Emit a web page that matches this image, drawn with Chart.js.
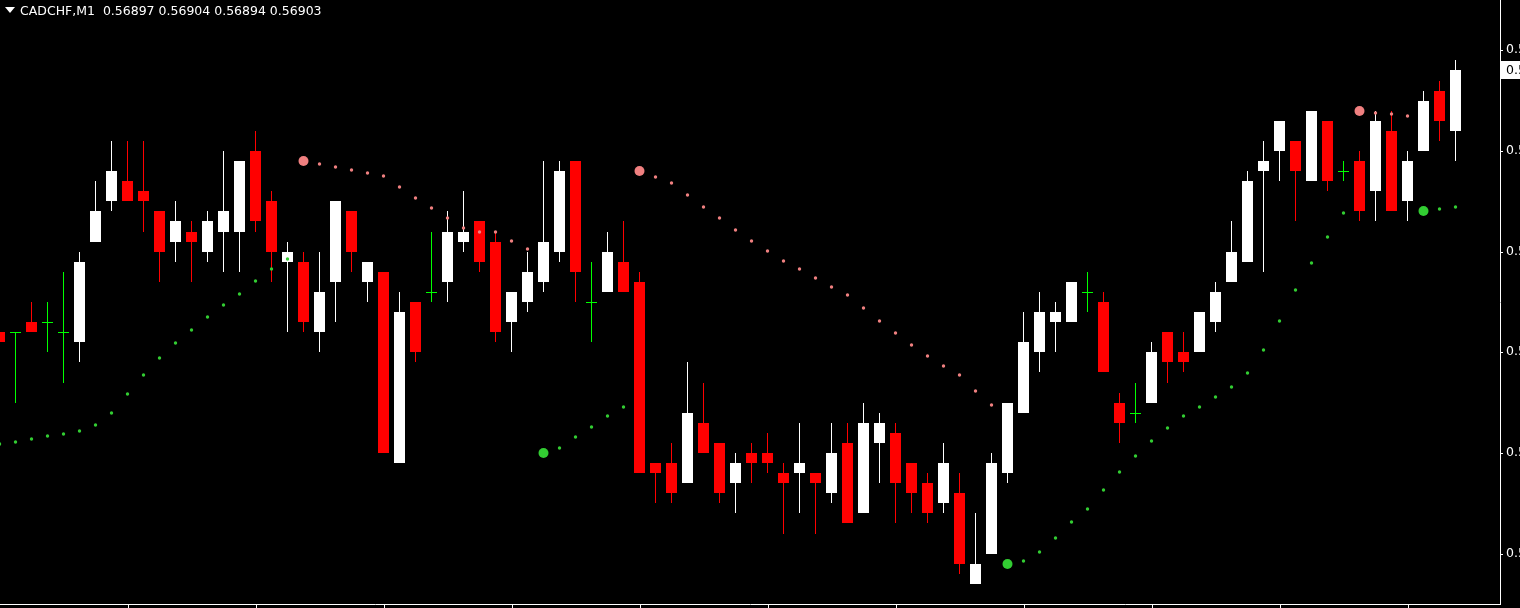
<!DOCTYPE html>
<html>
<head>
<meta charset="utf-8">
<script src="https://cdn.jsdelivr.net/npm/chart.js@4.4.1/dist/chart.umd.min.js"></script>
<style>
  html, body { margin: 0; padding: 0; background: #000; }
  #wrap { position: relative; width: 1520px; height: 608px; overflow: hidden; background: #000; }
  #head { position: absolute; left: 20px; top: 3px; color: #fff; font: 12.5px "DejaVu Sans", sans-serif; white-space: pre; }
  #tri { position: absolute; left: 5px; top: 7px; width: 0; height: 0;
         border-left: 5px solid transparent; border-right: 5px solid transparent; border-top: 6px solid #fff; }
</style>
</head>
<body>
<div id="wrap">
  <canvas id="priceChart"></canvas>
  <div id="tri"></div>
  <div id="head"></div>
</div>
<script>
// CADCHF M1 candles, one per minute, oldest first
const symbol = 'CADCHF,M1';

const opens = [
  0.56877, 0.56877, 0.56878, 0.56878, 0.56877, 0.56876, 0.56886, 0.56890, 0.56892, 0.56891,
  0.56889, 0.56886, 0.56887, 0.56885, 0.56887, 0.56887, 0.56895, 0.56890, 0.56884, 0.56884,
  0.56877, 0.56882, 0.56889, 0.56882, 0.56883, 0.56864, 0.56880, 0.56881, 0.56882, 0.56886,
  0.56888, 0.56886, 0.56878, 0.56880, 0.56882, 0.56885, 0.56894, 0.56880, 0.56881, 0.56884,
  0.56882, 0.56864, 0.56864, 0.56862, 0.56868, 0.56866, 0.56862, 0.56865, 0.56865, 0.56863,
  0.56863, 0.56863, 0.56861, 0.56866, 0.56859, 0.56866, 0.56867, 0.56864, 0.56862, 0.56860,
  0.56861, 0.56852, 0.56855, 0.56863, 0.56869, 0.56875, 0.56878, 0.56878, 0.56881, 0.56880,
  0.56870, 0.56869, 0.56870, 0.56877, 0.56875, 0.56875, 0.56878, 0.56882, 0.56884, 0.56893,
  0.56895, 0.56896, 0.56892, 0.56898, 0.56893, 0.56894, 0.56891, 0.56897, 0.56890, 0.56895,
  0.56901, 0.56897
];
const highs = [
  0.56878, 0.56877, 0.56880, 0.56880, 0.56883, 0.56885, 0.56892, 0.56896, 0.56896, 0.56896,
  0.56889, 0.56890, 0.56888, 0.56889, 0.56895, 0.56894, 0.56897, 0.56891, 0.56886, 0.56885,
  0.56885, 0.56890, 0.56889, 0.56884, 0.56883, 0.56881, 0.56880, 0.56887, 0.56889, 0.56891,
  0.56888, 0.56887, 0.56881, 0.56885, 0.56894, 0.56894, 0.56894, 0.56884, 0.56887, 0.56888,
  0.56883, 0.56864, 0.56866, 0.56874, 0.56872, 0.56866, 0.56865, 0.56866, 0.56867, 0.56864,
  0.56868, 0.56863, 0.56868, 0.56868, 0.56870, 0.56869, 0.56868, 0.56864, 0.56863, 0.56866,
  0.56863, 0.56859, 0.56865, 0.56870, 0.56879, 0.56881, 0.56880, 0.56882, 0.56883, 0.56881,
  0.56871, 0.56872, 0.56876, 0.56877, 0.56877, 0.56879, 0.56882, 0.56888, 0.56893, 0.56896,
  0.56898, 0.56896, 0.56899, 0.56898, 0.56894, 0.56895, 0.56899, 0.56899, 0.56895, 0.56901,
  0.56902, 0.56904
];
const lows = [
  0.56875, 0.56870, 0.56877, 0.56875, 0.56872, 0.56874, 0.56886, 0.56889, 0.56890, 0.56887,
  0.56882, 0.56884, 0.56882, 0.56884, 0.56883, 0.56883, 0.56887, 0.56882, 0.56877, 0.56877,
  0.56875, 0.56878, 0.56883, 0.56880, 0.56865, 0.56864, 0.56874, 0.56880, 0.56880, 0.56885,
  0.56883, 0.56876, 0.56875, 0.56879, 0.56881, 0.56884, 0.56880, 0.56876, 0.56881, 0.56881,
  0.56863, 0.56860, 0.56860, 0.56862, 0.56865, 0.56860, 0.56859, 0.56862, 0.56863, 0.56857,
  0.56859, 0.56857, 0.56860, 0.56858, 0.56859, 0.56862, 0.56858, 0.56859, 0.56858, 0.56859,
  0.56853, 0.56852, 0.56855, 0.56862, 0.56869, 0.56873, 0.56875, 0.56878, 0.56879, 0.56873,
  0.56866, 0.56868, 0.56870, 0.56872, 0.56873, 0.56875, 0.56877, 0.56882, 0.56884, 0.56883,
  0.56892, 0.56888, 0.56892, 0.56891, 0.56892, 0.56888, 0.56888, 0.56889, 0.56888, 0.56895,
  0.56896, 0.56894
];
const closes = [
  0.56876, 0.56877, 0.56877, 0.56878, 0.56877, 0.56884, 0.56889, 0.56893, 0.56890, 0.56890,
  0.56885, 0.56888, 0.56886, 0.56888, 0.56889, 0.56894, 0.56888, 0.56885, 0.56885, 0.56878,
  0.56881, 0.56890, 0.56885, 0.56884, 0.56865, 0.56879, 0.56875, 0.56881, 0.56887, 0.56887,
  0.56884, 0.56877, 0.56881, 0.56883, 0.56886, 0.56893, 0.56883, 0.56880, 0.56885, 0.56881,
  0.56863, 0.56863, 0.56861, 0.56869, 0.56865, 0.56861, 0.56864, 0.56864, 0.56864, 0.56862,
  0.56864, 0.56862, 0.56865, 0.56858, 0.56868, 0.56868, 0.56862, 0.56861, 0.56859, 0.56864,
  0.56854, 0.56854, 0.56864, 0.56870, 0.56876, 0.56879, 0.56879, 0.56882, 0.56881, 0.56873,
  0.56868, 0.56869, 0.56875, 0.56874, 0.56874, 0.56879, 0.56881, 0.56885, 0.56892, 0.56894,
  0.56898, 0.56893, 0.56899, 0.56892, 0.56893, 0.56889, 0.56898, 0.56889, 0.56894, 0.56900,
  0.56898, 0.56903
];

// parabolic SAR value for each candle
const sar = [
  0.568659, 0.568661, 0.568664, 0.568667, 0.568669, 0.568672, 0.568678, 0.568690, 0.568709, 0.568727,
  0.568744, 0.568759, 0.568772, 0.568785, 0.568797, 0.568808, 0.568821, 0.568833, 0.568843, 0.568940,
  0.568937, 0.568934, 0.568931, 0.568928, 0.568925, 0.568914, 0.568903, 0.568893, 0.568883, 0.568874,
  0.568870, 0.568870, 0.568861, 0.568853, 0.568650, 0.568655, 0.568666, 0.568676, 0.568687, 0.568696,
  0.568930, 0.568924, 0.568918, 0.568906, 0.568894, 0.568883, 0.568872, 0.568861, 0.568851, 0.568841,
  0.568833, 0.568824, 0.568815, 0.568807, 0.568794, 0.568781, 0.568769, 0.568757, 0.568746, 0.568736,
  0.568727, 0.568712, 0.568698, 0.568540, 0.568543, 0.568552, 0.568566, 0.568581, 0.568594, 0.568613,
  0.568631, 0.568647, 0.568662, 0.568675, 0.568687, 0.568696, 0.568706, 0.568716, 0.568729, 0.568752,
  0.568781, 0.568812, 0.568839, 0.568865, 0.568888, 0.568990, 0.568988, 0.568987, 0.568985, 0.568890,
  0.568892, 0.568894
];
// candles where the SAR flips side (drawn as a big dot)
const reversals = [19, 34, 40, 63, 85, 89];

// price axis
const priceMin = 0.56850;
const priceMax = 0.56910;
const priceTicks = [0.56855, 0.56865, 0.56875, 0.56885, 0.56895, 0.56905];
const barsPerTimeTick = 8;

const bullColor = '#ffffff';
const bearColor = '#ff0000';
const dojiColor = '#00ff00';

// first candle sits half a pixel left of the canvas edge, chart shifted right by ~2.8 bars
const xMin = 0.03125;
const xMax = xMin + 93.75;

function candleColor(i) {
  if (closes[i] > opens[i]) return bullColor;
  if (closes[i] < opens[i]) return bearColor;
  return dojiColor;
}

const wicks = [], wickColors = [];
const bodies = [], bodyColors = [];
const dojis = [];
opens.forEach((o, i) => {
  wicks.push({ x: i, y: [lows[i], highs[i]] });
  wickColors.push(candleColor(i));
  if (o === closes[i]) {
    dojis.push({ x: i, y: o });
  } else {
    bodies.push({ x: i, y: [o, closes[i]] });
    bodyColors.push(candleColor(i));
  }
});

const timeTicks = [];
for (let i = barsPerTimeTick; i < xMax; i += barsPerTimeTick) timeTicks.push(i + xMin);

// header text built from the last candle
const last = opens.length - 1;
document.getElementById('head').textContent =
  symbol + '  ' + [opens[last], highs[last], lows[last], closes[last]].map(v => v.toFixed(5)).join(' ');

// shift the 1px doji strokes half a pixel so they sit on a pixel row
const crispDoji = {
  id: 'crispDoji',
  beforeDatasetDraw(chart, args) {
    if (args.meta.label === 'doji') { chart.ctx.save(); chart.ctx.translate(0, 0.5); }
  },
  afterDatasetDraw(chart, args) {
    if (args.meta.label === 'doji') chart.ctx.restore();
  }
};

// white box with the current bid on the price scale
const bidLabel = {
  id: 'bidLabel',
  afterDraw(chart) {
    const { ctx, chartArea } = chart;
    const y = chart.scales.y.getPixelForValue(closes[last]);
    ctx.save();
    ctx.fillStyle = '#ffffff';
    ctx.fillRect(chartArea.right + 1, Math.round(y) - 9, 19, 18);
    ctx.fillStyle = '#000000';
    ctx.font = '12.5px "DejaVu Sans"';
    ctx.textBaseline = 'middle';
    ctx.fillText(closes[last].toFixed(5), chartArea.right + 6, y + 0.5);
    ctx.restore();
  }
};

new Chart(document.getElementById('priceChart'), {
  type: 'bar',
  data: {
    datasets: [
      {
        type: 'scatter',
        label: 'SAR',
        data: sar.map((v, i) => ({ x: i, y: v })),
        pointRadius: ctx => reversals.includes(ctx.dataIndex) ? 5 : 1.7,
        pointBackgroundColor: ctx => sar[ctx.dataIndex] > closes[ctx.dataIndex] ? '#f08080' : '#32cd32',
        pointBorderWidth: 0,
        order: 0
      },
      {
        type: 'scatter',
        label: 'doji',
        data: dojis,
        pointStyle: 'line',
        pointRadius: 5.5,
        pointBorderColor: dojiColor,
        pointBorderWidth: 1,
        order: 1
      },
      {
        type: 'bar',
        label: 'body',
        data: bodies,
        backgroundColor: bodyColors,
        barThickness: 11,
        grouped: false,
        inflateAmount: 0,
        borderWidth: 0,
        order: 2
      },
      {
        type: 'bar',
        label: 'wick',
        data: wicks,
        backgroundColor: wickColors,
        barThickness: 1,
        grouped: false,
        inflateAmount: 0,
        borderWidth: 0,
        order: 3
      }
    ]
  },
  options: {
    responsive: true,
    maintainAspectRatio: false,
    animation: false,
    events: [],
    layout: { padding: 0, autoPadding: false },
    plugins: { legend: { display: false }, tooltip: { enabled: false } },
    scales: {
      x: {
        type: 'linear',
        min: xMin,
        max: xMax,
        offset: false,
        grid: { offset: false, drawOnChartArea: false, tickColor: '#ffffff', tickLength: 4 },
        border: { color: '#ffffff', width: 1 },
        ticks: { display: false },
        afterBuildTicks: s => { s.ticks = timeTicks.map(v => ({ value: v })); },
        afterFit: s => { s.height = 4; s.paddingLeft = 0; s.paddingRight = 0; }
      },
      y: {
        type: 'linear',
        position: 'right',
        min: priceMin,
        max: priceMax,
        beginAtZero: false,
        alignToPixels: true,
        grid: { drawOnChartArea: false, tickColor: '#ffffff', tickLength: 3 },
        border: { color: '#ffffff', width: 1 },
        ticks: {
          color: '#ffffff',
          padding: 3,
          font: { family: 'DejaVu Sans', size: 12.5 },
          callback: v => v.toFixed(5)
        },
        afterBuildTicks: s => { s.ticks = priceTicks.map(v => ({ value: v })); },
        afterFit: s => { s.width = 20; s.paddingTop = 0; s.paddingBottom = 0; }
      }
    }
  },
  plugins: [crispDoji, bidLabel]
});
</script>
</body>
</html>
